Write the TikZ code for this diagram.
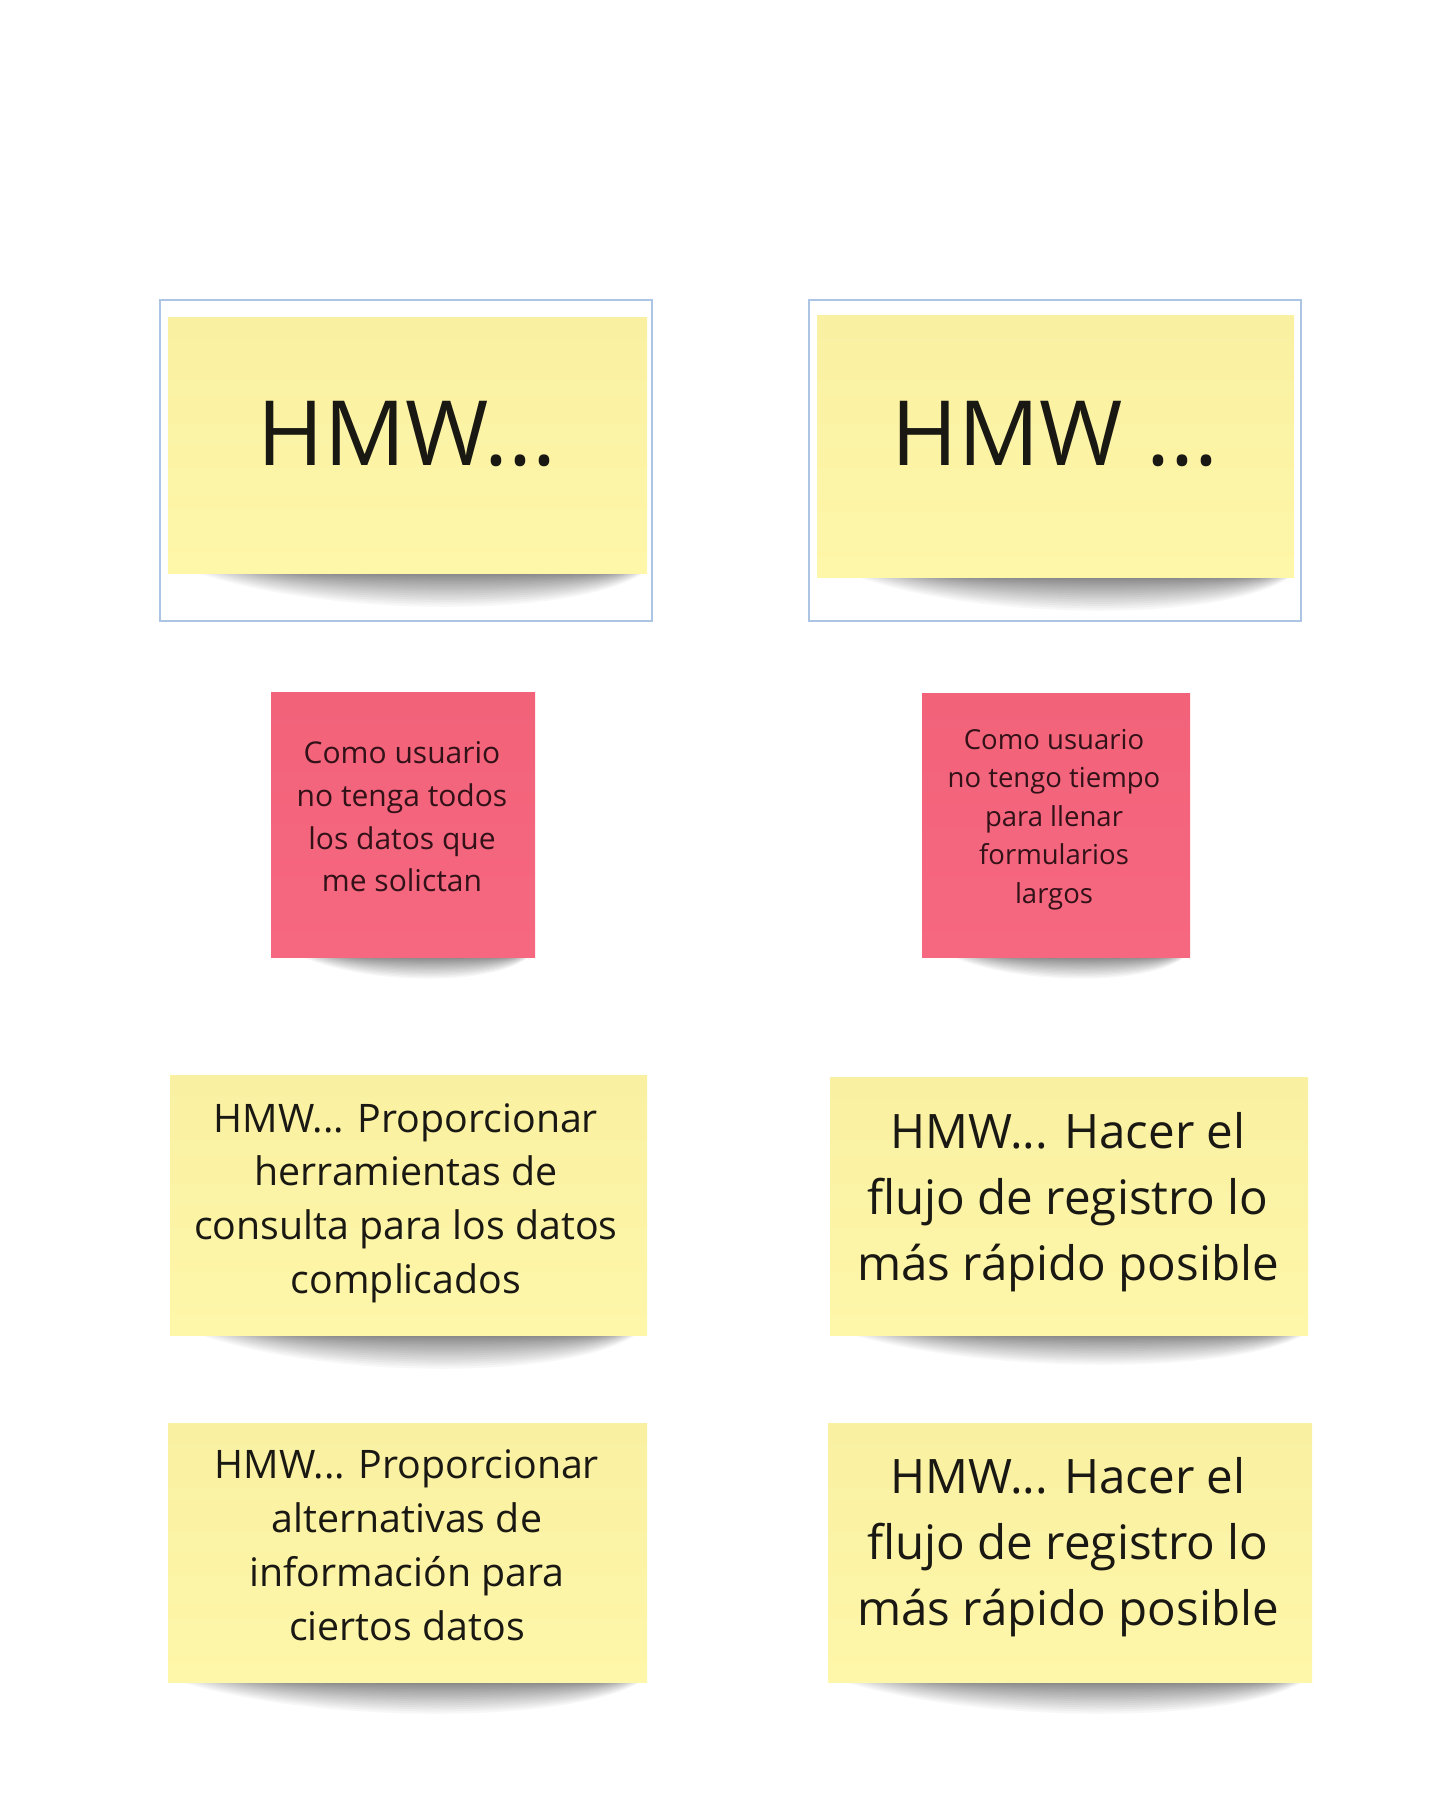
\documentclass[tikz,border=0pt]{standalone}
\usepackage{fontspec}
\setmainfont{Open Sans}

\definecolor{noteyellow}{RGB}{254,246,168}
\definecolor{noteyellowtop}{RGB}{249,240,162}
\definecolor{notepink}{RGB}{246,104,128}
\definecolor{notepinktop}{RGB}{242,99,122}
\definecolor{frameblue}{RGB}{172,197,228}
\definecolor{inkdark}{RGB}{26,24,18}
\definecolor{inkpink}{RGB}{50,18,24}

\tikzset{
  yellownote/.style={draw=none, top color=noteyellowtop, bottom color=noteyellow, inner sep=0pt},
  pinknote/.style={draw=none, top color=notepinktop, bottom color=notepink, inner sep=0pt},
  selframe/.style={draw=frameblue, line width=1.5pt, fill=none, inner sep=0pt},
  bigtitle/.style={text=inkdark, inner sep=0pt, font=\fontsize{90}{98}\selectfont},
  pinktext/.style={text=inkpink, inner sep=0pt, align=center},
  notetext/.style={text=inkdark, inner sep=0pt, align=center},
}

% soft curled shadow under the bottom edge of a note:
% #1 left end, #2 right end, #3 bottom edge, #4 depth
\newcommand\dropshadow[4]{%
  \foreach \k in {0,...,19}{%
    \pgfmathsetmacro\sa{#1+\k*0.012*(#2-#1)}%
    \pgfmathsetmacro\sb{#2-\k*0.004*(#2-#1)}%
    \pgfmathsetmacro\sd{#4*(1-\k/20)^1.4/0.75}%
    \fill[black, opacity=0.032] (\sa,#3-1) .. controls ({#1+0.3*(#2-#1)},{#3+\sd}) and ({#2-0.15*(#2-#1)},{#3+\sd}) .. (\sb,#3-1) -- cycle;
  }}

\begin{document}
\begin{tikzpicture}[x=1pt, y=-1pt]
  \fill[white] (0,0) rectangle (1450,1801);
  \useasboundingbox (0,0) rectangle (1450,1801);

  % shadows
  \dropshadow{195}{645}{573}{34}
  \dropshadow{855}{1292}{577}{34}
  \dropshadow{300}{530}{957}{22}
  \dropshadow{950}{1186}{957}{22}
  \dropshadow{198}{637}{1335}{34}
  \dropshadow{850}{1305}{1335}{30}
  \dropshadow{178}{642}{1682}{32}
  \dropshadow{842}{1304}{1682}{32}

  % selection frames around the headline notes
  \node[selframe, minimum width=492pt, minimum height=321pt] (frameA) at (406,460.5) {};
  \node[selframe, minimum width=492pt, minimum height=321pt] (frameB) at (1055,460.5) {};

  % headline notes
  \node[yellownote, minimum width=479pt, minimum height=256pt] (hmwA) at (407.5,445) {};
  \node[yellownote, minimum width=477pt, minimum height=262pt] (hmwB) at (1055.5,446) {};
  \node[bigtitle, anchor=base] (hmwAtext) at (407,465) {HMW...};
  \node[bigtitle, anchor=base] (hmwBtext) at (1055,465) {HMW ...};

  % problem notes
  \node[pinknote, minimum width=264pt, minimum height=265pt] (probA) at (403,824.5) {};
  \node[pinknote, minimum width=268pt, minimum height=264pt] (probB) at (1056,825) {};
  \node[pinktext, font=\fontsize{30}{42.7}\selectfont] (probAtext) at (402,817)
    {Como usuario\\no tenga todos\\los datos que\\me solictan};
  \node[pinktext, font=\fontsize{27.5}{38.5}\selectfont] (probBtext) at (1054,819.5)
    {Como usuario\\no tengo tiempo\\para llenar\\formularios\\largos};

  % idea notes
  \node[yellownote, minimum width=477pt, minimum height=260pt] (ideaA) at (408.5,1205) {};
  \node[yellownote, minimum width=478pt, minimum height=258pt] (ideaB) at (1069,1206) {};
  \node[yellownote, minimum width=479pt, minimum height=259pt] (ideaC) at (407.5,1552.5) {};
  \node[yellownote, minimum width=484pt, minimum height=259pt] (ideaD) at (1070,1552.5) {};

  \node[notetext, font=\fontsize{39.3}{53.8}\selectfont] (ideaAtext) at (406,1203)
    {HMW... Proporcionar\\herramientas de\\consulta para los datos\\complicados};
  \node[notetext, font=\fontsize{47.5}{66}\selectfont] (ideaBtext) at (1068,1202)
    {HMW... Hacer el\\flujo de registro lo\\más rápido posible};
  \node[notetext, font=\fontsize{39.3}{54}\selectfont] (ideaCtext) at (407,1545)
    {HMW... Proporcionar\\alternativas de\\información para\\ciertos datos};
  \node[notetext, font=\fontsize{47.5}{66}\selectfont] (ideaDtext) at (1068,1547)
    {HMW... Hacer el\\flujo de registro lo\\más rápido posible};
\end{tikzpicture}
\end{document}
